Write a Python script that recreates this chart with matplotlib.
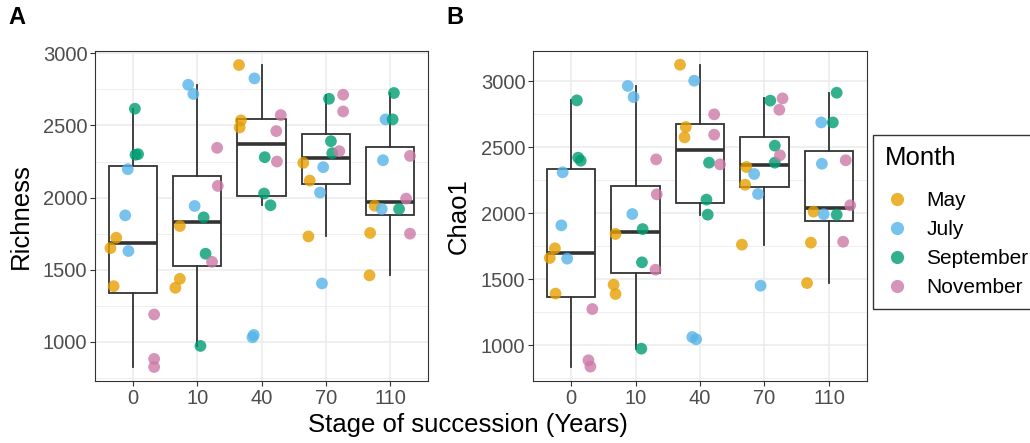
import numpy as np
import matplotlib
matplotlib.use("Agg")
import matplotlib.pyplot as plt
from matplotlib.lines import Line2D

plt.rcParams['font.family'] = ['Liberation Sans', 'DejaVu Sans']

# stages of succession (years) and sampling months
stages = ['0', '10', '40', '70', '110']
months = ['May', 'July', 'September', 'November']
colors = ['#E69F00', '#56B4E9', '#009E73', '#CC79A7']

# Richness values, per month, per stage (3 replicates each)
rich_may = [[1722, 1650, 1386], [1803, 1437, 1375], [2919, 2535, 2486], [2241, 2118, 1731], [1944, 1755, 1461]]
rich_jul = [[2197, 1877, 1630], [2782, 2718, 1942], [2826, 1048, 1032], [2211, 2035, 1405], [2542, 2259, 1921]]
rich_sep = [[2616, 2297, 2301], [1863, 1611, 972], [2280, 2028, 1947], [2685, 2391, 2308], [2725, 2542, 1921]]
rich_nov = [[1190, 882, 826], [2345, 2081, 1555], [2572, 2461, 2250], [2713, 2597, 2322], [2289, 1993, 1750]]

# Chao1 values, per month, per stage
chao_may = [[1735, 1662, 1392], [1844, 1460, 1389], [3126, 2654, 2576], [2351, 2217, 1763], [2013, 1778, 1472]]
chao_jul = [[2311, 1909, 1657], [2965, 2881, 1995], [3005, 1063, 1046], [2298, 2147, 1452], [2689, 2376, 1993]]
chao_sep = [[2856, 2422, 2399], [1881, 1629, 975], [2384, 2104, 1990], [2854, 2513, 2384], [2914, 2689, 1990]]
chao_nov = [[1275, 887, 839], [2409, 2144, 1573], [2750, 2596, 2371], [2871, 2785, 2440], [2402, 2061, 1785]]

# horizontal jitter (category units) as seen in the figure
rich_dx = [
    [[-0.26, -0.35, -0.30], [-0.27, -0.27, -0.34], [-0.35, -0.32, -0.34], [-0.35, -0.25, -0.27], [-0.24, -0.31, -0.32]],
    [[-0.08, -0.12, -0.07], [-0.14, -0.06, -0.04], [-0.11, -0.12, -0.14], [-0.04, -0.09, -0.06], [-0.07, -0.11, -0.13]],
    [[0.03, 0.04, 0.08], [0.10, 0.13, 0.05], [0.05, 0.04, 0.14], [0.05, 0.08, 0.10], [0.06, 0.04, 0.14]],
    [[0.33, 0.33, 0.33], [0.31, 0.32, 0.23], [0.30, 0.23, 0.24], [0.27, 0.27, 0.21], [0.31, 0.25, 0.31]],
]
chao_dx = [
    [[-0.25, -0.33, -0.24], [-0.31, -0.34, -0.31], [-0.31, -0.22, -0.24], [-0.28, -0.30, -0.35], [-0.24, -0.28, -0.34]],
    [[-0.13, -0.15, -0.06], [-0.12, -0.03, -0.05], [-0.09, -0.12, -0.06], [-0.16, -0.10, -0.06], [-0.12, -0.11, -0.08]],
    [[0.09, 0.11, 0.15], [0.11, 0.10, 0.09], [0.14, 0.10, 0.12], [0.09, 0.16, 0.16], [0.12, 0.06, 0.12]],
    [[0.33, 0.27, 0.30], [0.32, 0.33, 0.31], [0.22, 0.22, 0.31], [0.28, 0.23, 0.24], [0.26, 0.33, 0.22]],
]


def panel(ax, series, dxs, ylim, ylabel):
    # pooled values per stage for the boxplot
    pooled = [sum((s[i] for s in series), []) for i in range(len(stages))]
    ax.boxplot(pooled, positions=range(len(stages)), widths=0.75, showfliers=False,
               patch_artist=True, whis=1.5,
               boxprops=dict(facecolor='white', edgecolor='#333333', linewidth=1.3),
               whiskerprops=dict(color='#333333', linewidth=1.3),
               capprops=dict(linewidth=0),
               medianprops=dict(color='#333333', linewidth=2.6), zorder=2)
    for vals, dx, c in zip(series, dxs, colors):
        xs = np.concatenate([i + np.array(dx[i]) for i in range(len(stages))])
        ys = np.concatenate([np.array(v) for v in vals])
        ax.scatter(xs, ys, s=72, color=c, alpha=0.8, edgecolors='none', zorder=3)

    ax.set_xlim(-0.59, 4.59)
    ax.set_xticks(range(len(stages)))
    ax.set_xticklabels(stages)
    ax.set_yticks([1000, 1500, 2000, 2500, 3000])
    ax.set_yticks([750, 1250, 1750, 2250, 2750, 3250], minor=True)
    ax.set_ylim(*ylim)
    ax.grid(True, which='major', color='#EBEBEB', linewidth=1.1, zorder=0)
    ax.grid(True, which='minor', axis='y', color='#EBEBEB', linewidth=0.6, zorder=0)
    ax.set_axisbelow(True)
    ax.tick_params(which='major', length=3.5, width=0.8, color='#333333',
                   labelsize=14.5, labelcolor='#4D4D4D', pad=2)
    ax.tick_params(which='minor', length=0)
    for sp in ax.spines.values():
        sp.set_color('#333333')
        sp.set_linewidth(0.8)
    ax.set_ylabel(ylabel, fontsize=18.5, labelpad=7)


fig = plt.figure(figsize=(10.3, 4.43), dpi=100)
axA = fig.add_axes([95 / 1030, 62 / 443, 333 / 1030, 330 / 443])
axB = fig.add_axes([533 / 1030, 62 / 443, 334 / 1030, 330 / 443])

panel(axA, [rich_may, rich_jul, rich_sep, rich_nov], rich_dx, (729, 3016), 'Richness')
panel(axB, [chao_may, chao_jul, chao_sep, chao_nov], chao_dx, (730, 3230), 'Chao1')

fig.text(8 / 1030, 1 - 18 / 443, 'A', fontsize=17, fontweight='bold', va='center', ha='left')
fig.text(446 / 1030, 1 - 18 / 443, 'B', fontsize=17, fontweight='bold', va='center', ha='left')
fig.text(468 / 1030, 1 - 425 / 443, 'Stage of succession (Years)', fontsize=18.5,
         ha='center', va='center')

handles = [Line2D([], [], linestyle='none', marker='o', markersize=9.5, color=c, alpha=0.8,
                  markeredgewidth=0) for c in colors]
leg = fig.legend(handles, months, loc='upper left', bbox_to_anchor=(873 / 1030, 1 - 135 / 443),
                 title='Month', fontsize=15, title_fontsize=18.5, frameon=True, fancybox=False,
                 edgecolor='black', borderpad=0.55, labelspacing=0.48, handletextpad=0.8,
                 handlelength=1.2, borderaxespad=0)
leg._legend_box.align = 'left'
leg._legend_box.sep = 15
leg.get_frame().set_linewidth(1.0)

fig.savefig('out.png', dpi=100)
